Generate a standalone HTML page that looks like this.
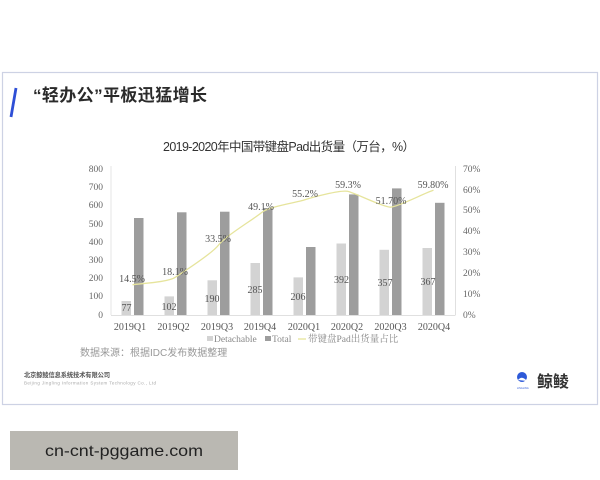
<!DOCTYPE html>
<html><head><meta charset="utf-8"><style>
html,body{margin:0;padding:0;background:#fff;}
svg{display:block;}
</style></head><body>
<svg width="600" height="480" viewBox="0 0 600 480" xmlns="http://www.w3.org/2000/svg">
<rect x="0" y="0" width="600" height="480" fill="#fff"/>
<rect x="2.5" y="72.5" width="595" height="332" fill="#fff" stroke="#cdd2e4" stroke-width="1.2"/>
<line x1="16" y1="88" x2="11" y2="117" stroke="#2e4fd6" stroke-width="2.8"/>
<text x="33" y="101" font-family="Liberation Sans, Noto Sans CJK SC, sans-serif" font-size="17" font-weight="bold" fill="#2a2a2a" textLength="174" lengthAdjust="spacing">“轻办公”平板迅猛增长</text>
<text x="163" y="151" font-family="Liberation Sans, Noto Sans CJK SC, sans-serif" font-size="12.5" fill="#333" textLength="252" lengthAdjust="spacing">2019-2020年中国带键盘Pad出货量（万台，%）</text>
<g font-family="Liberation Serif, Noto Serif CJK SC, serif" font-size="9.5" fill="#666" text-anchor="end">
<text x="103" y="172">800</text><text x="103" y="190">700</text><text x="103" y="208">600</text><text x="103" y="227">500</text><text x="103" y="245">400</text><text x="103" y="263">300</text><text x="103" y="281">200</text><text x="103" y="299">100</text><text x="103" y="318">0</text>
</g>
<g font-family="Liberation Serif, Noto Serif CJK SC, serif" font-size="9.5" fill="#666">
<text x="463" y="172">70%</text><text x="463" y="193">60%</text><text x="463" y="213">50%</text><text x="463" y="234">40%</text><text x="463" y="255">30%</text><text x="463" y="276">20%</text><text x="463" y="297">10%</text><text x="463" y="318">0%</text>
</g>
<line x1="111" y1="166" x2="111" y2="315" stroke="#e4e4e4" stroke-width="1"/>
<line x1="455.5" y1="166" x2="455.5" y2="315" stroke="#e0e0e0" stroke-width="1"/>
<line x1="111" y1="315.5" x2="455.5" y2="315.5" stroke="#e0e0e0" stroke-width="1"/>
<g fill="#d3d3d3">
<rect x="121.5" y="301" width="9.5" height="14"/>
<rect x="164.5" y="296.4" width="9.5" height="18.6"/>
<rect x="207.5" y="280.3" width="9.5" height="34.7"/>
<rect x="250.5" y="263" width="9.5" height="52"/>
<rect x="293.5" y="277.4" width="9.5" height="37.6"/>
<rect x="336.5" y="243.5" width="9.5" height="71.5"/>
<rect x="379.5" y="249.8" width="9.5" height="65.2"/>
<rect x="422.5" y="248" width="9.5" height="67"/>
</g>
<g fill="#9d9d9d">
<rect x="134" y="218" width="9.5" height="97"/>
<rect x="177" y="212.3" width="9.5" height="102.7"/>
<rect x="220" y="211.7" width="9.5" height="103.3"/>
<rect x="263" y="208" width="9.5" height="107"/>
<rect x="306" y="247" width="9.5" height="68"/>
<rect x="349" y="194.4" width="9.5" height="120.6"/>
<rect x="392" y="188.4" width="9.5" height="126.6"/>
<rect x="435" y="202.8" width="9.5" height="112.2"/>
</g>
<path d="M132.5,284.8 C139.7,283.5 168.3,282.3 175.5,277.2 C182.7,272.1 211.3,254.4 218.5,245.1 C225.7,235.8 254.3,218.8 261.5,212.6 C268.7,206.4 297.3,202.4 304.5,199.9 C311.7,197.4 340.3,189.8 347.5,191.3 C354.7,192.8 383.3,207.3 390.5,207.2 C397.7,207.1 426.3,192.2 433.5,190.3" fill="none" stroke="#e6e49c" stroke-width="1.3"/>
<g font-family="Liberation Serif, Noto Serif CJK SC, serif" font-size="10" fill="#555" text-anchor="middle">
<text x="132" y="282">14.5%</text>
<text x="175" y="275">18.1%</text>
<text x="218" y="242">33.5%</text>
<text x="261" y="210">49.1%</text>
<text x="305" y="197">55.2%</text>
<text x="348" y="188">59.3%</text>
<text x="391" y="204">51.70%</text>
<text x="433" y="188">59.80%</text>
<text x="126.5" y="311">77</text>
<text x="169" y="310">102</text>
<text x="212" y="302">190</text>
<text x="255" y="293">285</text>
<text x="298" y="300">206</text>
<text x="341.5" y="283">392</text>
<text x="385" y="286">357</text>
<text x="428" y="285">367</text>
</g>
<g font-family="Liberation Serif, Noto Serif CJK SC, serif" font-size="10" fill="#555" text-anchor="middle">
<text x="130" y="330">2019Q1</text><text x="173.5" y="330">2019Q2</text><text x="217" y="330">2019Q3</text><text x="260" y="330">2019Q4</text>
<text x="304" y="330">2020Q1</text><text x="347" y="330">2020Q2</text><text x="390.5" y="330">2020Q3</text><text x="434" y="330">2020Q4</text>
</g>
<g font-family="Liberation Serif, Noto Serif CJK SC, serif" font-size="9.5" fill="#888">
<rect x="207" y="336" width="6" height="5" fill="#d3d3d3"/>
<text x="214" y="342">Detachable</text>
<rect x="265" y="336" width="6" height="5" fill="#9d9d9d"/>
<text x="272" y="342">Total</text>
<line x1="298" y1="339" x2="306" y2="339" stroke="#e6e49c" stroke-width="1.3"/>
<text x="308" y="342">带键盘Pad出货量占比</text>
</g>
<text x="80" y="356" font-family="Liberation Sans, Noto Sans CJK SC, sans-serif" font-size="10" fill="#999">数据来源：根据IDC发布数据整理</text>
<text x="24" y="377" font-family="Liberation Sans, Noto Sans CJK SC, sans-serif" font-size="6.3" font-weight="bold" fill="#555" textLength="86" lengthAdjust="spacing">北京鲸鲮信息系统技术有限公司</text>
<text x="24" y="384.5" font-family="Liberation Sans, sans-serif" font-size="4.5" fill="#aaa" textLength="132" lengthAdjust="spacing">Beijing Jingling Information System Technology Co., Ltd</text>
<circle cx="522" cy="377" r="5" fill="#2e5ad8"/>
<path d="M518,380 Q522,375 527,381 Z" fill="#fff"/>
<text x="517" y="389" font-family="Liberation Sans, sans-serif" font-size="2.5" fill="#2e5ad8">LINGLING</text>
<text x="537" y="387" font-family="Liberation Sans, Noto Sans CJK SC, sans-serif" font-size="16" font-weight="bold" fill="#333">鲸鲮</text>
<rect x="10" y="431" width="228" height="39" fill="#bab8b2"/>
<text x="45" y="456" font-family="Liberation Sans, sans-serif" font-size="16" fill="#222" textLength="158" lengthAdjust="spacingAndGlyphs">cn-cnt-pggame.com</text>
</svg>
</body></html>
